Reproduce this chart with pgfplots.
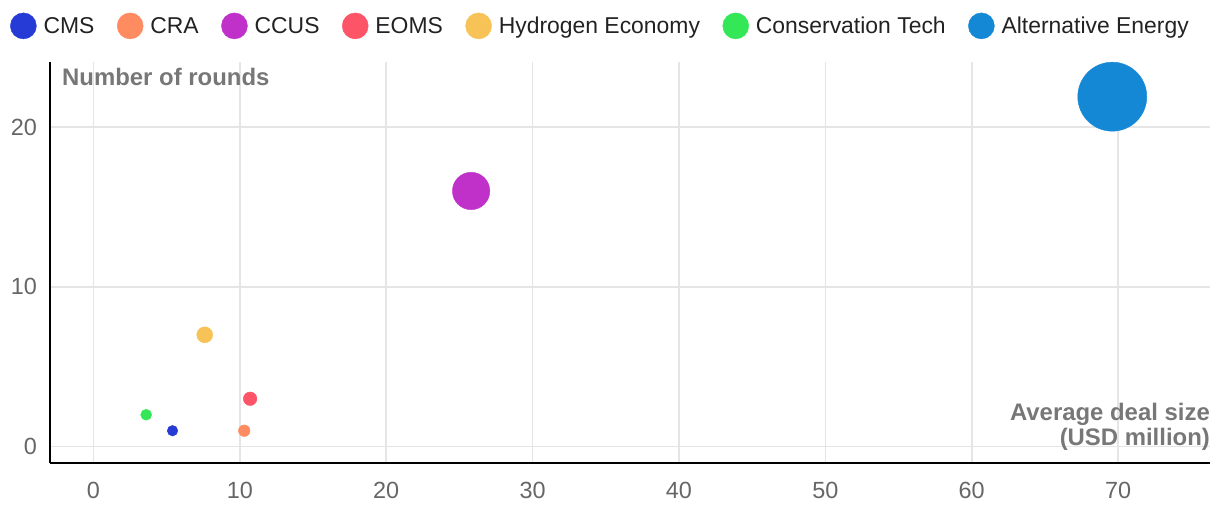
\documentclass[border=0pt]{standalone}
\usepackage{fontspec}
\setmainfont{Liberation Sans}
\usepackage{pgfplots}
\pgfplotsset{compat=1.18}

\definecolor{cms}{HTML}{263AD6}
\definecolor{cra}{HTML}{FF8B60}
\definecolor{ccus}{HTML}{BF31C8}
\definecolor{eoms}{HTML}{FE5468}
\definecolor{hydro}{HTML}{F7C256}
\definecolor{cons}{HTML}{34E757}
\definecolor{alt}{HTML}{1488D5}
\definecolor{gridc}{HTML}{E5E5E5}
\definecolor{tickc}{HTML}{666666}
\definecolor{titlec}{HTML}{777777}
\definecolor{legc}{HTML}{222222}

\begin{document}
\begin{tikzpicture}
\begin{axis}[
  at={(0,0)}, anchor=south west,
  scale only axis, width=1160bp, height=401bp,
  xmin=-2.97, xmax=76.28, ymin=-1.02, ymax=24.07,
  xtick={0,10,...,70}, ytick={0,10,20},
  axis x line*=bottom, axis y line*=left,
  axis line style={-, black, line width=2bp},
  major tick length=0pt,
  grid=major, grid style={gridc, line width=1.5bp},
  /pgf/number format/assume math mode=true,
  ticklabel style={font=\fontsize{23.5}{24}\selectfont, text=tickc, inner sep=0pt},
  yticklabel style={xshift=-13bp},
  xticklabel style={yshift=-19bp},
  legend columns=-1,
  legend style={at={(-0.0345,1.09)}, anchor=west, draw=none, fill=none,
    inner sep=0pt, font=\fontsize{23}{24}\selectfont, text=legc,
    /tikz/every odd column/.append style={column sep=5bp},
    /tikz/every even column/.append style={column sep=20.5bp}},
  legend image code/.code={\fill[#1] (13bp,0bp) circle (13bp);},
]
\addplot[only marks, mark=*, color=cms, mark size=5.3bp, mark options={draw=none}]
  coordinates {(5.4,1)};
\addplot[only marks, mark=*, color=cra, mark size=5.8bp, mark options={draw=none}]
  coordinates {(10.3,1)};
\addplot[only marks, mark=*, color=ccus, mark size=18.7bp, mark options={draw=none}]
  coordinates {(25.8,16)};
\addplot[only marks, mark=*, color=eoms, mark size=6.8bp, mark options={draw=none}]
  coordinates {(10.7,3)};
\addplot[only marks, mark=*, color=hydro, mark size=8bp, mark options={draw=none}]
  coordinates {(7.6,7)};
\addplot[only marks, mark=*, color=cons, mark size=5.5bp, mark options={draw=none}]
  coordinates {(3.6,2)};
\addplot[only marks, mark=*, color=alt, mark size=34.5bp, mark options={draw=none}]
  coordinates {(69.6,21.9)};
\legend{CMS, CRA, CCUS, EOMS, Hydrogen Economy, Conservation Tech, Alternative Energy}

\node[anchor=base west, inner sep=0pt, text=titlec, font=\bfseries\fontsize{24}{24}\selectfont]
  at ([xshift=12bp, yshift=-24bp]rel axis cs:0,1) {Number of rounds};
\node[anchor=base east, inner sep=0pt, text=titlec, font=\bfseries\fontsize{24}{24}\selectfont]
  at ([yshift=42.3bp]rel axis cs:1,0) {Average deal size};
\node[anchor=base east, inner sep=0pt, text=titlec, font=\bfseries\fontsize{24}{24}\selectfont]
  at ([yshift=18bp]rel axis cs:1,0) {(USD million)};
\end{axis}
\pgfresetboundingbox
\path[use as bounding box] (-50bp,-53bp) rectangle (1170bp,463bp);
\end{tikzpicture}
\end{document}
